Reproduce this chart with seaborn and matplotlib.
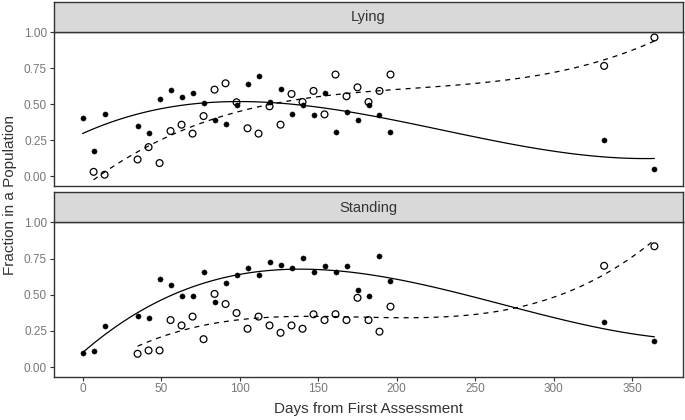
import pandas as pd
import matplotlib.pyplot as plt
import seaborn as sns

sns.set_style("white")
plt.rcParams['font.family'] = ['Liberation Sans', 'DejaVu Sans']

#Weekly assessment days plus two late visits
weeks = [0, 7, 14, 35, 42, 49, 56, 63, 70, 77, 84, 91, 98, 105, 112, 119, 126,
         133, 140, 147, 154, 161, 168, 175, 182, 189, 196, 332, 364]

#Lying panel
lying_days_filled = weeks
lying_filled = [0.405, 0.172, 0.432, 0.347, 0.301, 0.535, 0.597, 0.553, 0.579, 0.509,
                0.388, 0.363, 0.492, 0.638, 0.694, 0.519, 0.605, 0.435, 0.493, 0.423,
                0.579, 0.304, 0.448, 0.388, 0.493, 0.423, 0.304, 0.249, 0.049]
lying_days_open = weeks[1:]
lying_open = [0.030, 0.010, 0.116, 0.202, 0.091, 0.314, 0.358, 0.296, 0.418, 0.602,
              0.646, 0.514, 0.333, 0.296, 0.486, 0.358, 0.572, 0.516, 0.593, 0.430,
              0.707, 0.556, 0.618, 0.516, 0.593, 0.707, 0.767, 0.965]

#Standing panel
standing_days_filled = weeks
standing_filled = [0.094, 0.110, 0.283, 0.353, 0.337, 0.612, 0.568, 0.492, 0.492, 0.656,
                   0.448, 0.580, 0.638, 0.682, 0.638, 0.726, 0.708, 0.682, 0.751, 0.655,
                   0.699, 0.655, 0.699, 0.535, 0.492, 0.770, 0.596, 0.311, 0.179]
standing_days_open = weeks[3:]
standing_open = [0.092, 0.115, 0.115, 0.325, 0.288, 0.349, 0.193, 0.506, 0.436, 0.374,
                 0.265, 0.349, 0.288, 0.237, 0.288, 0.265, 0.365, 0.325, 0.366, 0.325,
                 0.479, 0.325, 0.245, 0.418, 0.700, 0.835]

panels = ["Lying", "Standing"]
rows = []
for panel, d_f, v_f, d_o, v_o in [
        ("Lying", lying_days_filled, lying_filled, lying_days_open, lying_open),
        ("Standing", standing_days_filled, standing_filled, standing_days_open, standing_open)]:
    rows += [(panel, "filled", d, v) for d, v in zip(d_f, v_f)]
    rows += [(panel, "open", d, v) for d, v in zip(d_o, v_o)]
df = pd.DataFrame(rows, columns=["panel", "group", "day", "fraction"])

fig = plt.figure(figsize=(6.85, 4.2), dpi=100)
W, H = 685, 420
left, right = 54, 683
panel_px = [(32, 185.5), (222, 376.5)]
strip_px = [(1.5, 32), (192, 222)]
border = "#333333"

for i, panel in enumerate(panels):
    top, bot = panel_px[i]
    ax = fig.add_axes([left / W, 1 - bot / H, (right - left) / W, (bot - top) / H])
    sub = df[df["panel"] == panel]
    f = sub[sub["group"] == "filled"]
    o = sub[sub["group"] == "open"]

    sns.scatterplot(data=f, x="day", y="fraction", ax=ax, color="black", s=14,
                    edgecolor="black", linewidth=0.3, zorder=3)
    sns.scatterplot(data=o, x="day", y="fraction", ax=ax, facecolor="none", s=24,
                    edgecolor="black", linewidth=0.9, zorder=3)
    #cubic trend lines
    sns.regplot(data=f, x="day", y="fraction", order=3, ci=None, scatter=False, ax=ax,
                line_kws={"color": "black", "lw": 0.9})
    sns.regplot(data=o, x="day", y="fraction", order=3, ci=None, scatter=False, ax=ax,
                line_kws={"color": "black", "lw": 0.9, "dashes": (4, 4)})

    ax.set_xlim(-18.2, 382.2)
    ax.set_ylim(-0.065, 1.003)
    ax.set_yticks([0, 0.25, 0.5, 0.75, 1.0])
    ax.set_yticklabels(["0.00", "0.25", "0.50", "0.75", "1.00"])
    ax.set_xticks([0, 50, 100, 150, 200, 250, 300, 350])
    ax.set_xlabel("")
    ax.set_ylabel("")
    for s in ax.spines.values():
        s.set_color(border)
        s.set_linewidth(1.0)
        s.set_visible(True)
    ax.tick_params(axis="both", length=3, width=0.8, color=border, labelsize=8.5,
                   labelcolor="#777777", pad=2, direction="out", bottom=True, left=True)
    if i == 0:
        ax.tick_params(axis="x", bottom=False, labelbottom=False)

    #facet strip
    stop, sbot = strip_px[i]
    sax = fig.add_axes([left / W, 1 - sbot / H, (right - left) / W, (sbot - stop) / H])
    sax.set_facecolor("#D9D9D9")
    sax.set_xticks([])
    sax.set_yticks([])
    for s in sax.spines.values():
        s.set_color(border)
        s.set_linewidth(1.0)
    sax.text(0.5, 0.48, panel, transform=sax.transAxes, ha="center", va="center",
             fontsize=10.5, color="#333333")

fig.text((left + right) / 2 / W, 1 - 409 / H, "Days from First Assessment", ha="center",
         va="center", fontsize=11, color="#333333")
fig.text(10 / W, 1 - 195 / H, "Fraction in a Population", ha="center", va="center",
         rotation=90, fontsize=11, color="#333333")

fig.savefig("out.png", dpi=100)
